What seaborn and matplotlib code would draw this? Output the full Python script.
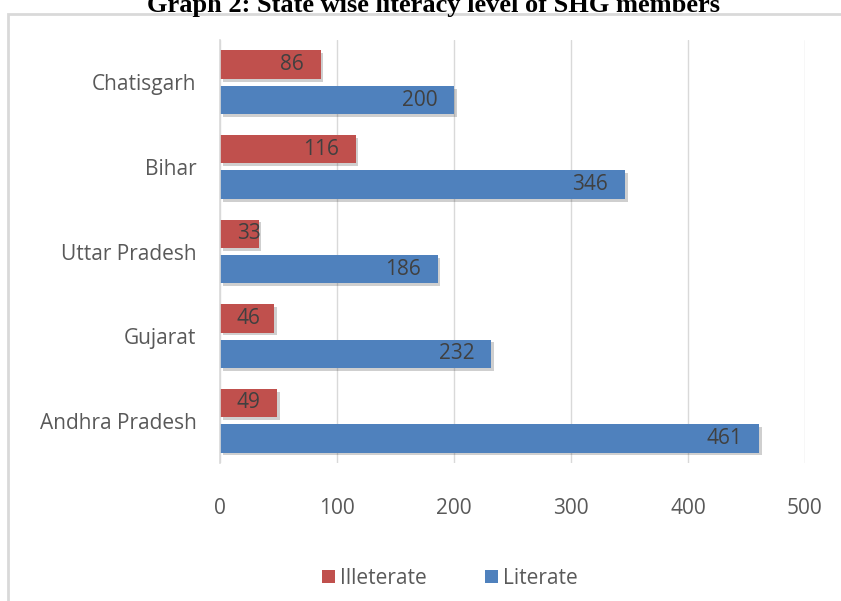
import matplotlib
matplotlib.use('Agg')
import matplotlib.pyplot as plt
import matplotlib.patheffects as pe
from matplotlib.patches import Rectangle, Patch
import pandas as pd
import seaborn as sns


states = ['Chatisgarh', 'Bihar', 'Uttar Pradesh', 'Gujarat', 'Andhra Pradesh']
illeterate = [86, 116, 33, 46, 49]
literate = [200, 346, 186, 232, 461]
series = ['Illeterate', 'Literate']
colors = {'Illeterate': '#C0504D', 'Literate': '#4F81BD'}
xticks = [0, 100, 200, 300, 400, 500]


def build_frame():
    rows = []
    for state, ill, lit in zip(states, illeterate, literate):
        rows.append({'State': state, 'Status': 'Illeterate', 'Count': ill})
        rows.append({'State': state, 'Status': 'Literate', 'Count': lit})
    return pd.DataFrame(rows)


def main():
    df = build_frame()

    sns.set_style('white')
    plt.rcParams['font.family'] = ['Open Sans', 'DejaVu Sans']

    fig = plt.figure(figsize=(8.41, 6.01), dpi=100)
    ax = fig.add_axes([0.2616, 0.2296, 0.6955, 0.7038])

    sns.barplot(data=df, x='Count', y='State', hue='Status',
                order=states, hue_order=series, palette=colors,
                orient='h', width=0.84, gap=0.2, ax=ax,
                saturation=1, legend=False)

    shadow = [pe.SimplePatchShadow(offset=(2, -2), alpha=0.25, shadow_rgbFace='#404040'),
              pe.Normal()]
    for p in ax.patches:
        p.set_path_effects(shadow)
        p.set_edgecolor('none')
        w = p.get_width()
        yc = p.get_y() + p.get_height() / 2
        if w < 55:
            # short bars: label pinned near the bar start, like Excel does
            ax.annotate(f'{int(round(w))}', xy=(0, yc), xytext=(12, 0),
                        textcoords='offset points', ha='left', va='center',
                        fontsize=15, color='#404040')
        else:
            ax.annotate(f'{int(round(w))}', xy=(w, yc), xytext=(-12, 0),
                        textcoords='offset points', ha='right', va='center',
                        fontsize=15, color='#404040')

    ax.set_xlim(0, 500)
    ax.set_ylim(4.5, -0.5)
    ax.set_xticks(xticks)
    ax.xaxis.grid(True, color='#d9d9d9', linewidth=1)
    ax.set_axisbelow(True)
    ax.set_xlabel('')
    ax.set_ylabel('')
    ax.tick_params(axis='x', length=0, pad=25, labelsize=15, labelcolor='#595959')
    ax.tick_params(axis='y', length=0, pad=17, labelsize=15, labelcolor='#595959')
    sns.despine(ax=ax, top=True, right=True, bottom=True, left=False)
    ax.spines['left'].set_color('#d9d9d9')
    ax.spines['left'].set_linewidth(1.2)

    handles = [Patch(facecolor=colors[s], edgecolor='none', label=s) for s in series]
    fig.legend(handles=handles, loc='center', bbox_to_anchor=(0.535, 0.038),
               ncol=2, frameon=False, fontsize=15, handlelength=0.6,
               handleheight=0.6, handletextpad=0.25, columnspacing=2.8,
               labelcolor='#595959')

    # outer chart frame, cut by the image edge
    fig.patches.append(Rectangle((8 / 841, -0.05), 1.05, 1 - 14 / 601 + 0.05,
                                 transform=fig.transFigure, fill=False,
                                 edgecolor='#d9d9d9', linewidth=2))

    fig.text(0.515, 1 - 12 / 601, 'Graph 2: State wise literacy level of SHG members',
             ha='center', va='baseline', fontsize=19, fontweight='bold',
             family='Liberation Serif', color='black')

    fig.savefig('out.png', dpi=100)
    plt.close(fig)


if __name__ == '__main__':
    main()
